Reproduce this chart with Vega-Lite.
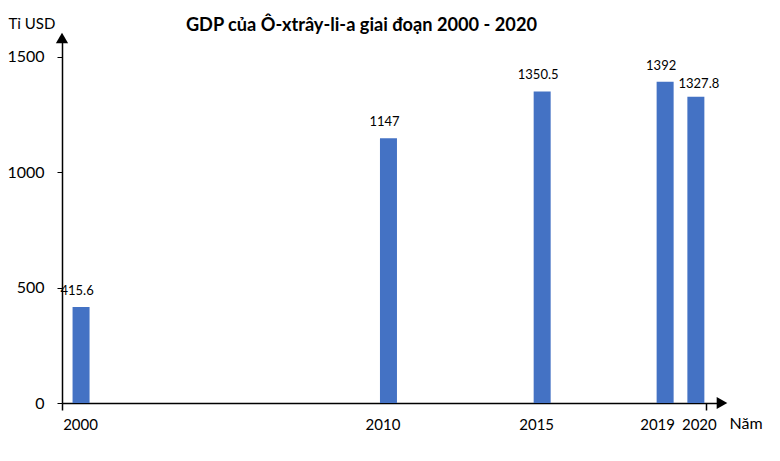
{
  "$schema": "https://vega.github.io/schema/vega-lite/v6.json",
  "width": 660,
  "height": 365,
  "autosize": "none",
  "padding": {"left": 62, "top": 38, "right": 58, "bottom": 58},
  "background": "white",
  "config": {"view": {"stroke": null}},
  "title": {
    "text": "GDP của Ô-xtrây-li-a giai đoạn 2000 - 2020",
    "anchor": "start",
    "dx": 179,
    "dy": 42,
    "offset": 9,
    "baseline": "alphabetic",
    "font": "Lato",
    "fontSize": 18.2,
    "fontWeight": "bold",
    "color": "black"
  },
  "data": {
    "values": [
      {"year": 2000, "gdp": 415.6},
      {"year": 2010, "gdp": 1147},
      {"year": 2015, "gdp": 1350.5},
      {"year": 2019, "gdp": 1392},
      {"year": 2020, "gdp": 1327.8}
    ]
  },
  "layer": [
    {
      "mark": {"type": "bar", "size": 17, "color": "#4472C4"},
      "encoding": {
        "x": {
          "field": "year",
          "type": "quantitative",
          "scale": {"domain": [1999.38, 2020.85], "nice": false, "zero": false, "padding": 0},
          "axis": {
            "orient": "bottom",
            "values": [2000, 2010, 2015, 2019, 2020],
            "format": "d",
            "labelOverlap": false,
            "ticks": false,
            "grid": false,
            "domainColor": "black",
            "domainWidth": 1.5,
            "labelFont": "Lato",
            "labelFontSize": 15,
            "labelColor": "black",
            "labelPadding": 14,
            "labelOffset": {"expr": "datum.value == 2000 ? -1 : datum.value == 2019 ? -8 : datum.value == 2020 ? 3 : -6"},
            "title": "Năm",
            "titleFont": "Lato",
            "titleFontSize": 16,
            "titleFontWeight": "normal",
            "titleColor": "black",
            "titleAlign": "left",
            "titleBaseline": "alphabetic",
            "titleX": 667,
            "titleY": 25
          }
        },
        "y": {
          "field": "gdp",
          "type": "quantitative",
          "scale": {"domain": [0, 1582], "nice": false, "padding": 0},
          "axis": {
            "values": [0, 500, 1000, 1500],
            "format": "d",
            "grid": false,
            "tickSize": 5,
            "tickColor": "black",
            "domainColor": "black",
            "domainWidth": 1.5,
            "labelFont": "Lato",
            "labelFontSize": 16,
            "labelColor": "black",
            "labelPadding": 13,
            "title": "Tỉ USD",
            "titleAngle": 0,
            "titleAlign": "left",
            "titleBaseline": "alphabetic",
            "titleX": -54,
            "titleY": -10,
            "titleFont": "Lato",
            "titleFontSize": 15,
            "titleFontWeight": "normal",
            "titleColor": "black"
          }
        }
      }
    },
    {
      "mark": {
        "type": "text",
        "font": "Lato",
        "fontSize": 13,
        "color": "black",
        "baseline": "middle",
        "dy": {"expr": "datum.year == 2020 ? -13 : -16"},
        "dx": {"expr": "datum.year == 2020 ? 3 : -4"}
      },
      "encoding": {
        "x": {"field": "year", "type": "quantitative", "axis": null},
        "y": {"field": "gdp", "type": "quantitative"},
        "text": {"field": "gdp", "type": "nominal"}
      }
    },
    {
      "data": {"values": [{}]},
      "mark": {"type": "point", "shape": "triangle-up", "filled": true, "color": "black", "opacity": 1, "size": 150},
      "encoding": {
        "x": {"datum": 1999.38, "type": "quantitative", "axis": null},
        "y": {"datum": 1582, "type": "quantitative"}
      }
    },
    {
      "data": {"values": [{}]},
      "mark": {"type": "point", "shape": "triangle-right", "filled": true, "color": "black", "opacity": 1, "size": 150},
      "encoding": {
        "x": {
          "datum": 2020.85,
          "type": "quantitative",
          "axis": {
            "orient": "bottom",
            "values": [1999.38, 2020.33],
            "labels": false,
            "domain": false,
            "grid": false,
            "tickSize": 7,
            "tickColor": "black",
            "tickWidth": 1.5,
            "title": null
          }
        },
        "y": {"datum": 0, "type": "quantitative"}
      }
    }
  ],
  "resolve": {"axis": {"x": "independent"}}
}
